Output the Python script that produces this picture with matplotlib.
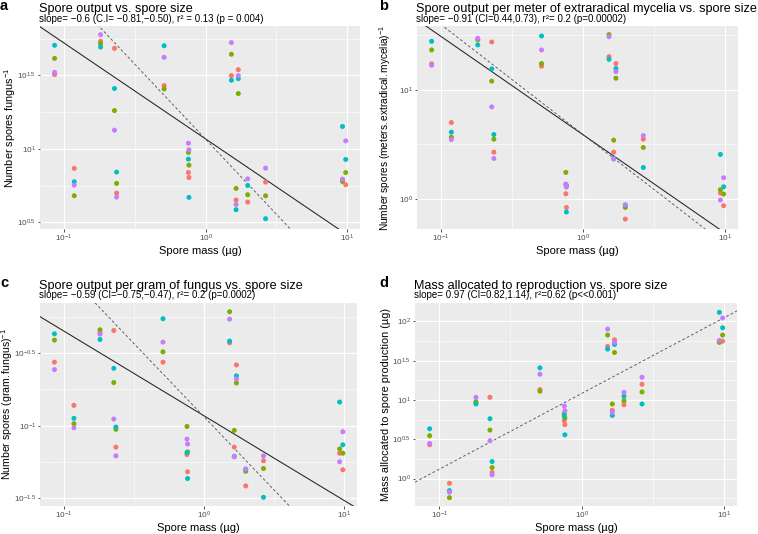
import numpy as np
import matplotlib
matplotlib.use("Agg")
import matplotlib.pyplot as plt

# === CONFIGURATION ===
plt.rcParams['font.family'] = ['Liberation Sans', 'DejaVu Sans']
plt.rcParams['mathtext.fontset'] = 'custom'
plt.rcParams['mathtext.rm'] = 'Liberation Sans'
plt.rcParams['mathtext.it'] = 'Liberation Sans:italic'
plt.rcParams['mathtext.bf'] = 'Liberation Sans:bold'

W, H = 758, 534
group_colors = ["#F8766D", "#7CAE00", "#00BFC4", "#C77CFF"]

# === DATA ===
# spore mass of each species, in µg
spore_mass = [0.0857, 0.118, 0.181, 0.227, 0.235, 0.509, 0.755, 0.762,
              1.52, 1.64, 1.70, 1.98, 2.65, 9.25, 9.75]

# y values as log10 exponents, one list per colour group (red, green, cyan, purple)
a_red = [1.505, 0.867, 1.731, 1.683, 0.699, 1.430, 0.839, 0.805, 1.498, 0.652, 1.538, 0.638, 0.774, 0.790, 0.756]
a_green = [1.615, 0.681, 1.715, 1.260, 0.765, 1.407, 0.975, 0.889, 1.643, 0.731, 1.376, 0.688, 0.681, 0.778, 0.839]
a_cyan = [1.704, 0.776, 1.692, 1.410, 0.842, 1.701, 0.930, 0.670, 1.466, 0.586, 1.477, 0.751, 0.525, 1.152, 0.928]
a_purple = [1.520, 0.753, 1.776, 1.127, 0.672, 1.622, 1.038, 0.993, 1.722, 0.622, 1.498, 0.796, 0.869, 0.794, 1.054]

b_red = [1.239, 0.700, 1.459, 1.440, 0.428, 1.217, 0.046, -0.080, 1.306, 0.428, 1.242, -0.187, 0.547, 0.052, -0.064]
b_green = [1.367, 0.566, 1.465, 1.080, 0.547, 1.242, 0.242, 0.120, 1.508, 0.538, 1.107, -0.080, 0.471, 0.083, 0.043]
b_cyan = [1.446, 0.612, 1.413, 1.193, 0.590, 1.495, 0.130, -0.122, 1.281, 0.370, 1.196, -0.060, 0.287, 0.407, 0.110]
b_purple = [1.226, 0.544, 1.474, 0.844, 0.370, 1.367, 0.135, 0.107, 1.489, 0.364, 1.168, -0.055, 0.581, -0.012, 0.193]

c_red = [-0.563, -0.860, -0.360, -0.345, -1.147, -0.563, -1.198, -1.317, -0.430, -1.147, -0.582, -1.414, -1.241, -1.189, -1.303]
c_green = [-0.411, -0.986, -0.340, -0.703, -1.025, -0.492, -1.005, -1.180, -0.216, -1.032, -0.706, -1.313, -1.294, -1.159, -1.189]
c_cyan = [-0.368, -0.949, -0.407, -0.605, -1.009, -0.264, -1.184, -1.363, -0.418, -1.210, -0.657, -1.300, -1.492, -0.837, -1.131]
c_purple = [-0.614, -1.014, -0.370, -0.954, -1.207, -0.425, -1.092, -1.126, -0.267, -1.214, -0.678, -1.297, -1.207, -1.248, -1.041]

d_red = [0.430, -0.060, 0.970, 1.034, 0.077, 1.132, 0.736, 0.685, 1.681, 0.868, 1.766, 0.940, 1.200, 1.745, 1.749]
d_green = [0.545, -0.243, 0.979, 0.617, 0.140, 1.111, 0.826, 0.770, 1.826, 0.949, 1.604, 0.991, 1.102, 1.732, 1.826]
d_cyan = [0.634, -0.153, 0.949, 0.762, 0.217, 1.409, 0.800, 0.557, 1.647, 0.804, 1.706, 1.047, 0.949, 2.115, 1.919]
d_purple = [0.447, -0.174, 1.034, 0.481, 0.047, 1.328, 0.923, 0.864, 1.902, 0.843, 1.732, 1.098, 1.289, 1.757, 2.043]

# fitted (solid) and reference (dashed) lines in log10 space: (slope, intercept)
a_fit, a_ref = (-0.652, 1.067), (-1.02, 1.065)
b_fit, b_ref = (-0.903, 0.587), (-1.01, 0.589)
c_fit, c_ref = (-0.583, -0.932), (-1.008, -0.939)
d_fit, d_ref = None, (0.964, 1.083)

panels = [
    dict(letter="a", groups=[a_red, a_green, a_cyan, a_purple], fit=a_fit, ref=a_ref,
         box=(40, 26, 360, 229), ylim=(0.455, 1.835), yticks=[0.5, 1, 1.5],
         ylab_x=10, ylab_size=7.8,
         title="Spore output vs. spore size",
         sub="slope= \u22120.6 (C.I= \u22120.81,\u22120.50), r\u00b2 = 0.13 (p = 0.004)",
         ylabel=r"Number spores fungus$^{-1}$"),
    dict(letter="b", groups=[b_red, b_green, b_cyan, b_purple], fit=b_fit, ref=b_ref,
         box=(417, 26, 738, 229), ylim=(-0.278, 1.587), yticks=[0, 1],
         ylab_x=385.5, ylab_size=7.3,
         title="Spore output per meter of extraradical mycelia vs. spore size",
         sub="slope= \u22120.91 (CI=0.44,0.73), r\u00b2= 0.2 (p=0.00002)",
         ylabel=r"Number spores $\left(\mathrm{meters.extradical.mycelia}\right)^{-1}$"),
    dict(letter="c", groups=[c_red, c_green, c_cyan, c_purple], fit=c_fit, ref=c_ref,
         box=(40, 303, 357, 506), ylim=(-1.552, -0.156), yticks=[-1.5, -1, -0.5],
         ylab_x=7.5, ylab_size=7.6,
         title="Spore output per gram of fungus vs. spore size",
         sub="slope= \u22120.59 (CI=\u22120.75,\u22120.47), r\u00b2= 0.2 (p=0.0002)",
         ylabel=r"Number spores $\left(\mathrm{gram.fungus}\right)^{-1}$"),
    dict(letter="d", groups=[d_red, d_green, d_cyan, d_purple], fit=d_fit, ref=d_ref,
         box=(415, 303, 737, 506), ylim=(-0.349, 2.234), yticks=[0, 0.5, 1, 1.5, 2],
         ylab_x=386, ylab_size=7.8,
         title="Mass allocated to reproduction vs. spore size",
         sub="slope= 0.97 (CI=0.82,1.14), r\u00b2=0.62 (p<<0.001)",
         ylabel="Mass allocated to spore production (\u00b5g)"),
]

xlim_log = (-1.17, 1.09)
xticks = [-1, 0, 1]


def fmt_exp(v):
    s = f"{v:g}"
    return r"$10^{" + s + "}$"


def minor_breaks(major, lo, hi):
    step = major[1] - major[0]
    cand = [major[0] - step / 2] + [m + step / 2 for m in major]
    return [c for c in cand if lo <= c <= hi]


fig = plt.figure(figsize=(W / 100, H / 100), dpi=100)

for p in panels:
    x0, y0, x1, y1 = p["box"]
    ax = fig.add_axes([x0 / W, 1 - y1 / H, (x1 - x0) / W, (y1 - y0) / H])
    ax.set_facecolor("#EBEBEB")
    for s in ax.spines.values():
        s.set_visible(False)
    ax.set_xscale("log")
    ax.set_yscale("log")
    ax.set_xlim(10 ** xlim_log[0], 10 ** xlim_log[1])
    ax.set_ylim(10 ** p["ylim"][0], 10 ** p["ylim"][1])

    ax.set_xticks([10.0 ** t for t in xticks])
    ax.set_xticklabels([fmt_exp(t) for t in xticks])
    ax.set_yticks([10.0 ** t for t in p["yticks"]])
    ax.set_yticklabels([fmt_exp(t) for t in p["yticks"]])
    ax.set_xticks([10.0 ** t for t in minor_breaks(xticks, *xlim_log)], minor=True)
    ax.set_yticks([10.0 ** t for t in minor_breaks(p["yticks"], *p["ylim"])], minor=True)
    ax.xaxis.set_minor_formatter(matplotlib.ticker.NullFormatter())
    ax.yaxis.set_minor_formatter(matplotlib.ticker.NullFormatter())
    ax.tick_params(which="major", length=1.8, width=0.6, color="#333333",
                   labelsize=5.9, labelcolor="#4D4D4D", pad=0.9)
    ax.tick_params(which="minor", length=0)
    ax.grid(which="major", color="white", linewidth=0.8)
    ax.grid(which="minor", color="white", linewidth=0.4)
    ax.set_axisbelow(True)

    # lines
    xs = np.array(xlim_log)
    if p["fit"] is not None:
        m, b = p["fit"]
        ax.plot(10 ** xs, 10 ** (b + m * xs), color="#222222", lw=0.75, zorder=2)
    m, b = p["ref"]
    ax.plot(10 ** xs, 10 ** (b + m * xs), color="#555555", lw=0.65,
            linestyle=(0, (3, 2.5)), zorder=2)

    # points
    for vals, col in zip(p["groups"], group_colors):
        ax.scatter(spore_mass, np.power(10.0, vals), s=13, color=col,
                   edgecolors="none", zorder=3)

    ax.set_xlabel("Spore mass (\u00b5g)", fontsize=8, labelpad=1.6)
    fig.text(p["ylab_x"] / W, 1 - (y0 + y1) / 2 / H, p["ylabel"], fontsize=p["ylab_size"],
             rotation=90, ha="center", va="center")

    # titles and panel letter
    fig.text((x0 - 1) / W, 1 - (y0 - 14) / H, p["title"], fontsize=9.1,
             ha="left", va="baseline")
    fig.text((x0 - 1) / W, 1 - (y0 - 4.5) / H, p["sub"], fontsize=7.0,
             ha="left", va="baseline")
    lx = 0 if x0 < 200 else 379
    fig.text(lx / W, 1 - (y0 - 16) / H, p["letter"], fontsize=10.5,
             fontweight="bold", ha="left", va="baseline")

fig.savefig("out.png", dpi=100)
